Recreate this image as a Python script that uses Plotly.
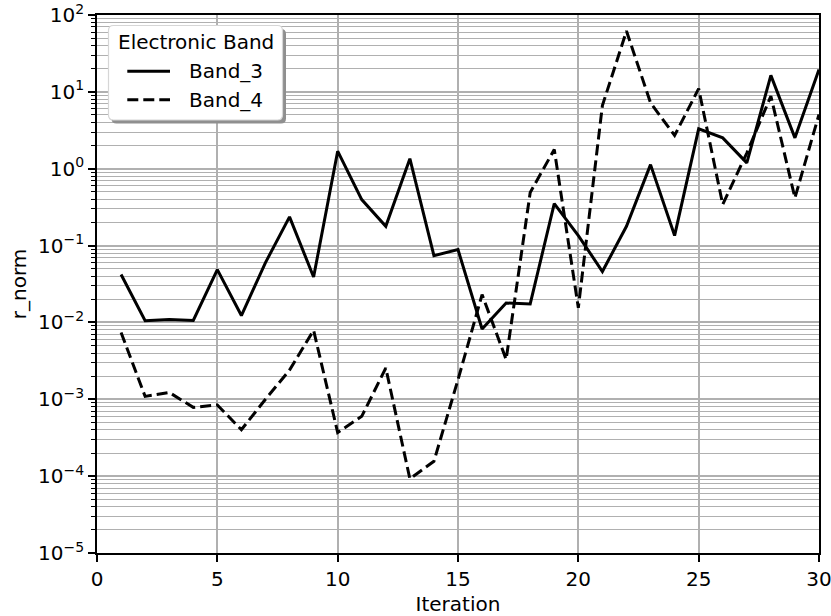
import plotly.graph_objects as go

# Residual norm per iteration for two electronic bands
iterations = list(range(1, 31))
band_3 = [0.042, 0.0105, 0.0109, 0.0106, 0.0487, 0.0123, 0.06, 0.236, 0.039, 1.69,
          0.397, 0.178, 1.35, 0.074, 0.0887, 0.0082, 0.0179, 0.0174, 0.352, 0.135,
          0.046, 0.178, 1.13, 0.135, 3.30, 2.52, 1.19, 16.4, 2.52, 19.6]
band_4 = [0.0074, 0.00109, 0.00123, 0.000785, 0.000843, 0.000402, 0.001, 0.0024, 0.0079, 0.00037,
          0.0006, 0.00255, 0.0000925, 0.000156, 0.0018, 0.023, 0.0033, 0.49, 1.78, 0.0155,
          6.65, 61.8, 7.2, 2.71, 11.0, 0.342, 1.6, 8.8, 0.418, 5.08]
series_names = ["Band_3", "Band_4"]
series_dash = ["solid", "11px,5px"]

x_ticks = [0, 5, 10, 15, 20, 25, 30]
y_tick_vals = [1e-5, 1e-4, 1e-3, 1e-2, 1e-1, 1e0, 1e1, 1e2]
y_tick_text = ["10<sup>−5</sup>", "10<sup>−4</sup>", "10<sup>−3</sup>", "10<sup>−2</sup>",
               "10<sup>−1</sup>", "10<sup>0</sup>", "10<sup>1</sup>", "10<sup>2</sup>"]

FONT = "DejaVu Sans"
GRID = "#b0b0b0"
W, H = 831, 616
ML, MR, MT, MB = 97, 12, 15, 63
PW, PH = W - ML - MR, H - MT - MB


def px_to_paper(x, y):
    return (x - ML) / PW, 1 - (y - MT) / PH


def rounded_box(x0, y0, x1, y1, r):
    """SVG path (paper coords) of a box with rounded corners, given in pixels."""
    def p(x, y):
        px, py = px_to_paper(x, y)
        return f"{px:.5f},{py:.5f}"
    return " ".join([
        f"M{p(x0 + r, y0)}", f"L{p(x1 - r, y0)}", f"Q{p(x1, y0)} {p(x1, y0 + r)}",
        f"L{p(x1, y1 - r)}", f"Q{p(x1, y1)} {p(x1 - r, y1)}",
        f"L{p(x0 + r, y1)}", f"Q{p(x0, y1)} {p(x0, y1 - r)}",
        f"L{p(x0, y0 + r)}", f"Q{p(x0, y0)} {p(x0 + r, y0)}", "Z",
    ])


fig = go.Figure()
for name, values, dash in zip(series_names, [band_3, band_4], series_dash):
    fig.add_trace(go.Scatter(x=iterations, y=values, mode="lines", name=name,
                             showlegend=False,
                             line=dict(color="black", width=3, dash=dash)))

# legend: frame with drop shadow, title and one row per series
fig.add_shape(type="path", xref="paper", yref="paper", layer="above",
              path=rounded_box(111.5, 29, 286, 123.5, 5),
              fillcolor="#8f8f8f", line=dict(width=0))
fig.add_shape(type="path", xref="paper", yref="paper", layer="above",
              path=rounded_box(108.5, 25.5, 282.5, 120, 5),
              fillcolor="white", line=dict(color="#d6d6d6", width=1.2))

tx, ty = px_to_paper(195.5, 41.5)
fig.add_annotation(text="Electronic Band", xref="paper", yref="paper",
                   x=tx, y=ty, xanchor="center", yanchor="middle",
                   showarrow=False, font=dict(family=FONT, size=20, color="black"))

row_y = [71.3, 99.7]
for name, dash, ry in zip(series_names, series_dash, row_y):
    x0, y0 = px_to_paper(127.3, ry)
    x1, _ = px_to_paper(170, ry)
    fig.add_shape(type="line", xref="paper", yref="paper", layer="above",
                  x0=x0, x1=x1, y0=y0, y1=y0,
                  line=dict(color="black", width=3, dash=dash))
    ax, _ = px_to_paper(186.5, ry)
    fig.add_annotation(text=name, xref="paper", yref="paper",
                       x=ax, y=y0, xanchor="left", yanchor="middle",
                       showarrow=False, font=dict(family=FONT, size=20, color="black"))

fig.update_layout(
    width=W, height=H,
    margin=dict(l=ML, r=MR, t=MT, b=MB, autoexpand=False),
    paper_bgcolor="white", plot_bgcolor="white",
    font=dict(family=FONT, size=20, color="black"),
    showlegend=False,
    xaxis=dict(
        range=[0, 30], tickvals=x_ticks, automargin=False,
        ticklabeloverflow="allow",
        showgrid=True, gridcolor=GRID, gridwidth=1.5,
        showline=True, linecolor="black", linewidth=1.6, mirror=True,
        ticks="outside", ticklen=7, tickwidth=1.6, tickcolor="black",
        zeroline=False,
        title=dict(text="Iteration", font=dict(size=20), standoff=8),
    ),
    yaxis=dict(
        type="log", range=[-5, 2], automargin=False,
        ticklabeloverflow="allow",
        tickvals=y_tick_vals, ticktext=y_tick_text,
        showgrid=True, gridcolor=GRID, gridwidth=1.5,
        showline=True, linecolor="black", linewidth=1.6, mirror=True,
        ticks="outside", ticklen=7, tickwidth=1.6, tickcolor="black",
        zeroline=False,
        minor=dict(dtick="D1", showgrid=True, gridcolor=GRID, gridwidth=1.2,
                   ticks="outside", ticklen=4, tickwidth=1.2, tickcolor="black"),
        title=dict(text="r_norm", font=dict(size=20), standoff=6),
    ),
)

fig.write_html("out.html")
